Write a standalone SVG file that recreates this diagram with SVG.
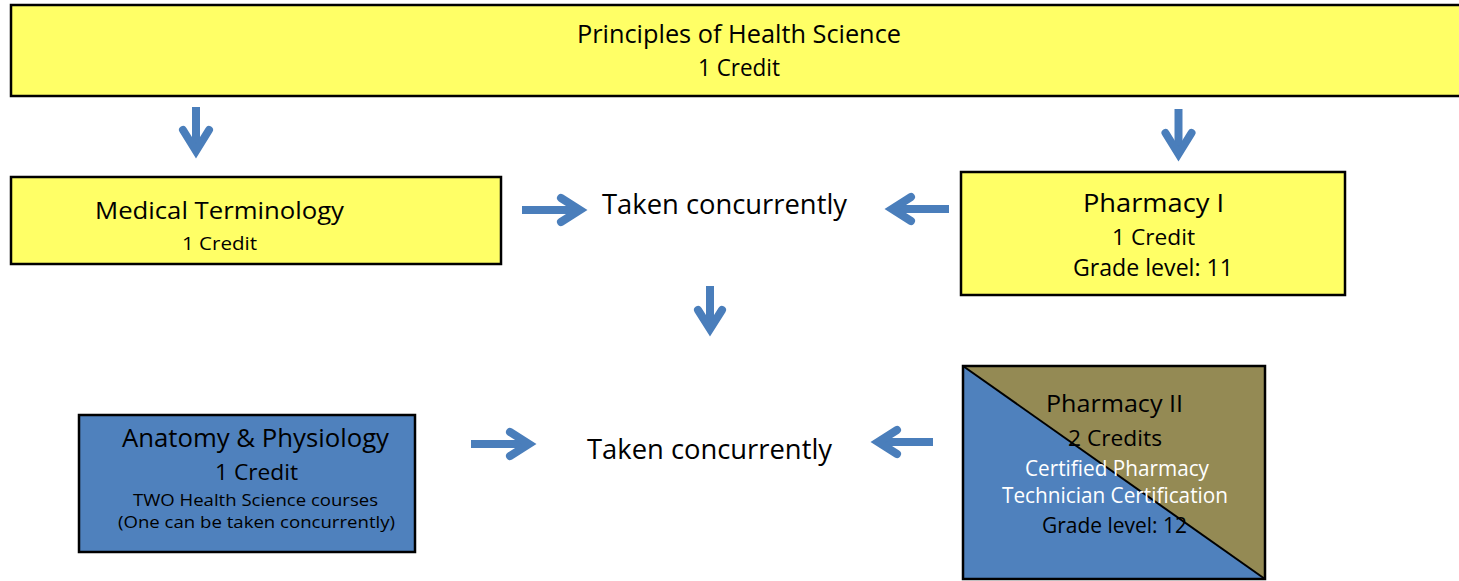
<svg xmlns="http://www.w3.org/2000/svg" width="1459" height="581" viewBox="0 0 1459 581">
<style>
.box{stroke:#000;stroke-width:2.5}
.yel{fill:#FFFF66}
.blu{fill:#4F81BD}
.t{font-family:"Open Sans","Liberation Sans",sans-serif;fill:#000}
.w{fill:#fff}
.arr{fill:none;stroke:#4A7EBB;stroke-width:8;stroke-linejoin:miter;stroke-miterlimit:10}
.arr .head{stroke-linecap:round}
</style>
<rect width="1459" height="581" fill="#fff"/>
<g id="principles">
<rect class="box yel" x="11" y="5" width="1455" height="91"/>
<text class="t" x="577" y="43" font-size="25" textLength="324" lengthAdjust="spacingAndGlyphs">Principles of Health Science</text>
<text class="t" x="698" y="76" font-size="23" textLength="82" lengthAdjust="spacingAndGlyphs">1 Credit</text>
</g>
<g id="medterm">
<rect class="box yel" x="11" y="177" width="490" height="87"/>
<text class="t" x="95" y="219" font-size="24" textLength="249" lengthAdjust="spacingAndGlyphs">Medical Terminology</text>
<text class="t" x="182" y="250" font-size="19" textLength="75" lengthAdjust="spacingAndGlyphs">1 Credit</text>
</g>
<g id="pharm1">
<rect class="box yel" x="961" y="172" width="384" height="123"/>
<text class="t" x="1083" y="212" font-size="25" textLength="141" lengthAdjust="spacingAndGlyphs">Pharmacy I</text>
<text class="t" x="1112" y="245" font-size="21" textLength="83" lengthAdjust="spacingAndGlyphs">1 Credit</text>
<text class="t" x="1073" y="276" font-size="23" textLength="160" lengthAdjust="spacingAndGlyphs">Grade level: 11</text>
</g>
<g id="concurrent1">
<text class="t" x="602" y="214" font-size="27" textLength="245" lengthAdjust="spacingAndGlyphs">Taken concurrently</text>
</g>
<g id="concurrent2">
<text class="t" x="587" y="459" font-size="27" textLength="245" lengthAdjust="spacingAndGlyphs">Taken concurrently</text>
</g>
<g id="anatomy">
<rect class="box blu" x="79" y="415" width="336" height="137"/>
<text class="t" x="122" y="447" font-size="25" textLength="267" lengthAdjust="spacingAndGlyphs">Anatomy &amp; Physiology</text>
<text class="t" x="215" y="480" font-size="22" textLength="83" lengthAdjust="spacingAndGlyphs">1 Credit</text>
<text class="t" x="133" y="506" font-size="17" textLength="245" lengthAdjust="spacingAndGlyphs">TWO Health Science courses</text>
<text class="t" x="118" y="528" font-size="17" textLength="277" lengthAdjust="spacingAndGlyphs">(One can be taken concurrently)</text>
</g>
<g id="pharm2">
<polygon points="963,366 1265,366 1265,579" fill="#948A54"/>
<polygon points="963,366 1265,579 963,579" fill="#4F81BD"/>
<rect x="963" y="366" width="302" height="213" fill="none" stroke="#000" stroke-width="2.5"/>
<line x1="963" y1="366" x2="1265" y2="579" stroke="#000" stroke-width="2"/>
<text class="t" x="1046" y="412" font-size="24" textLength="137" lengthAdjust="spacingAndGlyphs">Pharmacy II</text>
<text class="t" x="1068" y="446" font-size="22" textLength="94" lengthAdjust="spacingAndGlyphs">2 Credits</text>
<text class="t w" x="1025" y="476" font-size="21" textLength="184" lengthAdjust="spacingAndGlyphs">Certified Pharmacy</text>
<text class="t w" x="1002" y="503" font-size="21" textLength="226" lengthAdjust="spacingAndGlyphs">Technician Certification</text>
<text class="t" x="1042" y="533" font-size="22" textLength="145" lengthAdjust="spacingAndGlyphs">Grade level: 12</text>
</g>
<g id="connectors">
<g class="arr">
<path d="M196,107V151"/><path class="head" d="M183,130L196,151L209,130"/>
</g>
<g class="arr">
<path d="M1178.5,109V154"/><path class="head" d="M1165.5,133L1178.5,154L1191.5,133"/>
</g>
<g class="arr">
<path d="M710,286V329"/><path class="head" d="M698,310L710,329L722,310"/>
</g>
<g class="arr">
<path d="M522,210H580"/><path class="head" d="M561,198L580,210L561,222"/>
</g>
<g class="arr">
<path d="M949,209H892"/><path class="head" d="M911,197L892,209L911,221"/>
</g>
<g class="arr">
<path d="M471,444H529"/><path class="head" d="M510,432L529,444L510,456"/>
</g>
<g class="arr">
<path d="M933,442H878"/><path class="head" d="M897,430L878,442L897,454"/>
</g>
</g>
</svg>
